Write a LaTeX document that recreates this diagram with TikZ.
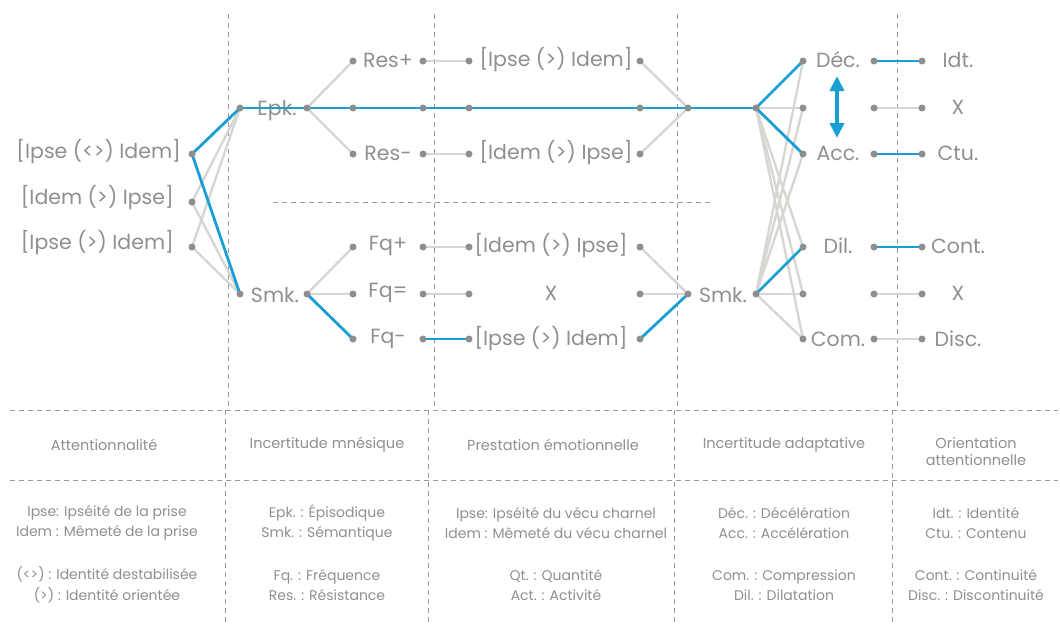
\documentclass[tikz,border=0pt]{standalone}
\usepackage{fontspec}
\setmainfont{Poppins}
\usetikzlibrary{arrows.meta}
\definecolor{txt}{HTML}{8F8F8F}
\definecolor{dotc}{HTML}{8E8E8E}
\definecolor{lite}{HTML}{D6D6D2}
\definecolor{blu}{HTML}{1A9FD4}
\definecolor{dash}{HTML}{9A9A9A}
\tikzset{
  dotn/.style={circle,fill=dotc,inner sep=0pt,minimum size=7pt},
  lbl/.style={text=txt,inner sep=0pt,font=\fontsize{20.5}{24}\selectfont},
  leg/.style={text=txt,inner sep=0pt,align=center,font=\fontsize{14}{20.5}\selectfont},
  legt/.style={text=txt,inner sep=0pt,align=center,font=\fontsize{14.5}{17}\selectfont},
  gl/.style={draw=lite,line width=2.4pt},
  bl/.style={draw=blu,line width=2.8pt},
  sep/.style={draw=dash,line width=1pt,dash pattern=on 5pt off 4pt},
}
\begin{document}
\begin{tikzpicture}[x=1pt,y=-1pt]
\useasboundingbox (0,0) rectangle (1060,643);
% separators
\foreach \x in {228,434,677,897} {\draw[sep] (\x,14) -- (\x,410);}
\foreach \x in {225,428,674,892} {\draw[sep] (\x,410) -- (\x,622);}
\draw[sep] (10,410) -- (1058,410);
\draw[sep] (10,480) -- (1058,480);
\draw[sep] (273,202) -- (712,202);
% coordinates
\coordinate (L1) at (192,154);
\coordinate (L2) at (192,202);
\coordinate (L3) at (192,247);
\coordinate (EpkA) at (240,108);
\coordinate (EpkB) at (307,108);
\coordinate (SmkA) at (240,294);
\coordinate (SmkB) at (307,294);
\foreach \n/\y in {1/61,2/108,3/154,4/247,5/294,6/339} {
  \coordinate (a\n) at (353,\y);
  \coordinate (b\n) at (423,\y);
  \coordinate (c\n) at (469,\y);
  \coordinate (d\n) at (640,\y);
  \coordinate (g\n) at (803,\y);
  \coordinate (h\n) at (874,\y);
  \coordinate (k\n) at (922,\y);
}
\coordinate (J1) at (688,108);
\coordinate (J2) at (756,108);
\coordinate (S1) at (688,294);
\coordinate (S2) at (756,294);
\coordinate (arrT) at (837,76);
\coordinate (arrB) at (837,138);
% gray connectors
\draw[gl] (L2) -- (EpkA); \draw[gl] (L2) -- (SmkA);
\draw[gl] (L3) -- (EpkA); \draw[gl] (L3) -- (SmkA);
\draw[gl] (EpkB) -- (a1); \draw[gl] (EpkB) -- (a3);
\draw[gl] (SmkB) -- (a4); \draw[gl] (SmkB) -- (a5);
\draw[gl] (b1) -- (c1); \draw[gl] (b3) -- (c3);
\draw[gl] (b4) -- (c4); \draw[gl] (b5) -- (c5);
\draw[gl] (d1) -- (J1); \draw[gl] (d3) -- (J1);
\draw[gl] (d4) -- (S1); \draw[gl] (d5) -- (S1);
\foreach \n in {2,4,5,6} {\draw[gl] (J2) -- (g\n);}
\foreach \n in {1,2,3,5,6} {\draw[gl] (S2) -- (g\n);}
\draw[gl] (h2) -- (k2); \draw[gl] (h5) -- (k5); \draw[gl] (h6) -- (k6);
% labels
\node[lbl,anchor=east] (t1) at (181,152) {[Ipse (<>) Idem]};
\node[lbl,anchor=east] (t2) at (174,198) {[Idem (>) Ipse]};
\node[lbl,anchor=east] (t3) at (174,243) {[Ipse (>) Idem]};
\node[lbl] (tEpk) at (277,111) {Epk.};
\node[lbl] (tSmk) at (275,295) {Smk.};
\node[lbl] (tRp) at (388,60) {Res+};
\node[lbl] (tRm) at (388,153) {Res-};
\node[lbl] (tFp) at (388,246) {Fq+};
\node[lbl] (tFe) at (388,293) {Fq=};
\node[lbl] (tFm) at (388,339) {Fq-};
\node[lbl] (m1) at (556,60) {[Ipse (>) Idem]};
\node[lbl] (m3) at (556,153) {[Idem (>) Ipse]};
\node[lbl] (m4) at (551,246) {[Idem (>) Ipse]};
\node[lbl] (m5) at (551,293) {X};
\node[lbl] (m6) at (551,339) {[Ipse (>) Idem]};
\node[lbl] (tSmk2) at (723,295) {Smk.};
\node[lbl] (r1) at (838,60) {Déc.};
\node[lbl] (r3) at (838,153) {Acc.};
\node[lbl] (r4) at (838,246) {Dil.};
\node[lbl] (r6) at (838,339) {Com.};
\node[lbl] (o1) at (958,60) {Idt.};
\node[lbl] (o2) at (958,107) {X};
\node[lbl] (o3) at (958,153) {Ctu.};
\node[lbl] (o4) at (958,246) {Cont.};
\node[lbl] (o5) at (958,293) {X};
\node[lbl] (o6) at (958,339) {Disc.};
% blue connectors
\draw[bl] (L1) -- (EpkA); \draw[bl] (L1) -- (SmkA);
\draw[bl] (EpkA) -- (J2);
\draw[bl] (J2) -- (g1); \draw[bl] (J2) -- (g3);
\draw[bl] (S2) -- (g4);
\draw[bl] (SmkB) -- (a6); \draw[bl] (b6) -- (c6);
\draw[bl] (d6) -- (S1);
\draw[bl] (h1) -- (k1); \draw[bl] (h3) -- (k3); \draw[bl] (h4) -- (k4);
\draw[draw=blu,line width=3.8pt,{Triangle[length=15pt,width=14pt]}-{Triangle[length=15pt,width=14pt]}] (arrT) -- (arrB);
% dots
\foreach \p in {L1,L2,L3,EpkA,EpkB,SmkA,SmkB,J1,J2,S1,S2} {\node[dotn] at (\p) {};}
\foreach \n in {1,...,6} {
  \node[dotn] at (a\n) {}; \node[dotn] at (b\n) {}; \node[dotn] at (c\n) {};
  \node[dotn] at (d\n) {}; \node[dotn] at (g\n) {}; \node[dotn] at (h\n) {};
  \node[dotn] at (k\n) {};
}
% legend
\node[legt] (h1t) at (104,445) {Attentionnalité};
\node[legt] (h2t) at (327,445) {Incertitude mnésique};
\node[legt] (h3t) at (553,445) {Prestation émotionnelle};
\node[legt] (h4t) at (784,445) {Incertitude adaptative};
\node[legt] (h5t) at (976,452) {Orientation\\attentionnelle};
\node[leg] (e1a) at (107,523) {Ipse: Ipséité de la prise\\Idem : Mêmeté de la prise};
\node[leg] (e1b) at (107,585) {(<>) : Identité destabilisée\\(>) : Identité orientée};
\node[leg] (e2a) at (327,523) {Epk. : Épisodique\\Smk. : Sémantique};
\node[leg] (e2b) at (327,585) {Fq. : Fréquence\\Res. : Résistance};
\node[leg] (e3a) at (556,523) {Ipse: Ipséité du vécu charnel\\Idem : Mêmeté du vécu charnel};
\node[leg] (e3b) at (556,585) {Qt. : Quantité\\Act. : Activité};
\node[leg] (e4a) at (784,523) {Déc. : Décélération\\Acc. : Accélération};
\node[leg] (e4b) at (784,585) {Com. : Compression\\Dil. : Dilatation};
\node[leg] (e5a) at (976,523) {Idt. : Identité\\Ctu. : Contenu};
\node[leg] (e5b) at (976,585) {Cont. : Continuité\\Disc. : Discontinuité};
\end{tikzpicture}
\end{document}
